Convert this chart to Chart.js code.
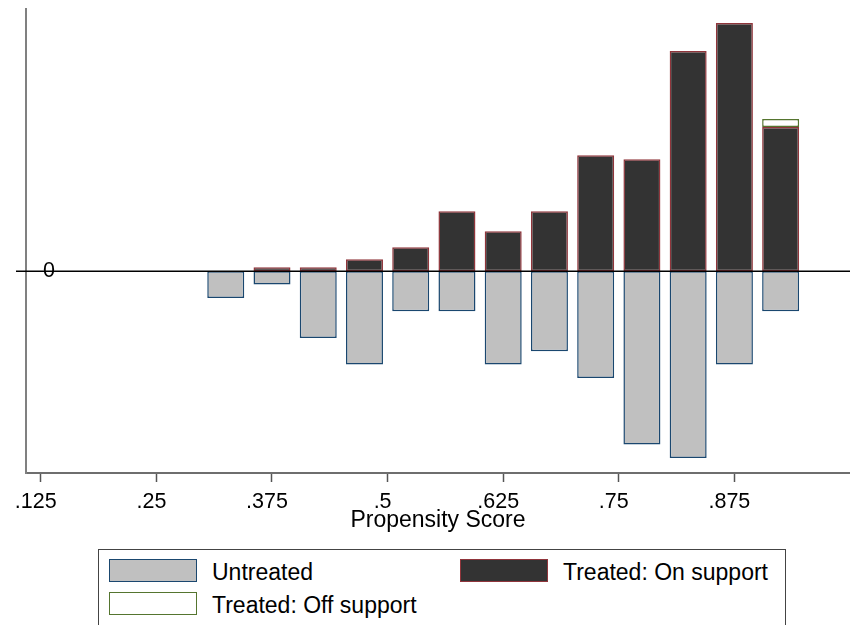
<!DOCTYPE html>
<html lang="en">
<head>
    <meta charset="UTF-8">
    <title>Propensity Score</title>
    <script src="https://cdn.jsdelivr.net/npm/chart.js"></script>
    <style>
        body {
            margin: 0;
            padding: 0;
            background: #ffffff;
            font-family: "Liberation Sans", Arial, sans-serif;
        }
        .page {
            position: relative;
            width: 850px;
            height: 625px;
            overflow: hidden;
        }
        .chart-box {
            position: absolute;
            left: 0;
            top: 0;
            width: 850px;
            height: 545px;
        }
        #legend {
            position: absolute;
            left: 98px;
            top: 549px;
            width: 688px;
            height: 100px;
            border: 1.5px solid #444;
            box-sizing: border-box;
        }
        .item {
            position: absolute;
            display: flex;
            align-items: flex-start;
            font-size: 23px;
            color: #000;
        }
        .swatch {
            width: 88px;
            height: 23px;
            box-sizing: border-box;
            border: 1.5px solid;
            margin-right: 15px;
        }
        .item span {
            line-height: 23px;
            padding-top: 2px;
        }
    </style>
</head>
<body>
<div class="page">
    <div class="chart-box"><canvas id="psChart"></canvas></div>
    <div id="legend"></div>
</div>

<script>
    // bin centres (bin width .05)
    const binCenters = [0.325, 0.375, 0.425, 0.475, 0.525, 0.575, 0.625, 0.675, 0.725, 0.775, 0.825, 0.875, 0.925];
    // densities; untreated drawn below zero
    const untreated = [-0.506, -0.253, -1.266, -1.772, -0.759, -0.759, -1.772, -1.519, -2.025, -3.291, -3.544, -1.772, -0.759];
    const treatedOn = [null, 0.076, 0.076, 0.228, 0.456, 1.141, 0.760, 1.141, 2.205, 2.129, 4.183, 4.715, 2.738];
    const treatedOffBins = [0.925];
    const treatedOff = [0.152];

    const xTicks = [0.125, 0.25, 0.375, 0.5, 0.625, 0.75, 0.875];
    const xTickLabels = ['.125', '.25', '.375', '.5', '.625', '.75', '.875'];

    const FONT = '"Liberation Sans", Arial, sans-serif';

    function points(xs, ys) {
        return xs.map((x, i) => ({ x: x, y: ys[i] }));
    }

    // horizontal line at zero, drawn over the bars
    const zeroLine = {
        id: 'zeroLine',
        afterDatasetsDraw(chart) {
            const ctx = chart.ctx;
            const area = chart.chartArea;
            const y0 = chart.scales.y.getPixelForValue(0);
            ctx.save();
            ctx.strokeStyle = '#000';
            ctx.lineWidth = 1.5;
            ctx.beginPath();
            ctx.moveTo(area.left - 10, y0);
            ctx.lineTo(area.right, y0);
            ctx.stroke();
            ctx.restore();
        }
    };

    const ctx = document.getElementById('psChart').getContext('2d');
    const chart = new Chart(ctx, {
        type: 'bar',
        data: {
            datasets: [{
                label: 'Untreated',
                data: points(binCenters, untreated),
                backgroundColor: '#c0c0c0',
                borderColor: '#1a476f',
                borderWidth: 1.5,
                borderSkipped: false
            }, {
                label: 'Treated: On support',
                data: points(binCenters, treatedOn),
                backgroundColor: '#333333',
                borderColor: '#90353b',
                borderWidth: 1.5,
                borderSkipped: false
            }, {
                label: 'Treated: Off support',
                data: points(treatedOffBins, treatedOff),
                backgroundColor: '#ffffff',
                borderColor: '#55752f',
                borderWidth: 1.5,
                borderSkipped: false
            }]
        },
        options: {
            responsive: true,
            maintainAspectRatio: false,
            animation: false,
            grouped: false,
            barPercentage: 0.8,
            categoryPercentage: 1.0,
            layout: { padding: { top: 9, left: 0, right: 0, bottom: 0 } },
            plugins: {
                legend: { display: false },
                tooltip: { enabled: false }
            },
            scales: {
                x: {
                    type: 'linear',
                    offset: false,
                    min: 0.109,
                    max: 1.0,
                    afterBuildTicks: (scale) => {
                        scale.ticks = xTicks.map(v => ({ value: v }));
                    },
                    afterFit: (scale) => {
                        scale.height = 72;
                        scale.paddingLeft = 0;
                        scale.paddingRight = 0;
                    },
                    ticks: {
                        autoSkip: false,
                        maxRotation: 0,
                        padding: 7,
                        labelOffset: -5,
                        color: '#000',
                        font: { family: FONT, size: 21.5 },
                        callback: (v, i) => xTickLabels[i]
                    },
                    grid: {
                        offset: false,
                        drawOnChartArea: false,
                        tickLength: 9,
                        tickColor: '#555',
                        tickWidth: 1.5
                    },
                    border: { display: true, color: '#6e6e6e', width: 2 },
                    title: {
                        display: true,
                        text: 'Propensity Score',
                        color: '#000',
                        font: { family: FONT, size: 23 },
                        padding: { top: 0, bottom: 11 }
                    }
                },
                y: {
                    stacked: true,
                    min: -3.83,
                    max: 4.98,
                    afterBuildTicks: (scale) => {
                        scale.ticks = [{ value: 0 }];
                    },
                    afterFit: (scale) => {
                        scale.width = 26;
                        scale.paddingTop = 0;
                        scale.paddingBottom = 0;
                    },
                    ticks: {
                        mirror: true,
                        padding: 17,
                        color: '#000',
                        font: { family: FONT, size: 21.5 },
                        callback: () => '0'
                    },
                    grid: { display: false, drawTicks: false },
                    border: { display: true, color: '#808080', width: 2 }
                }
            }
        },
        plugins: [zeroLine]
    });

    // legend box below the plot, two columns
    const legend = document.getElementById('legend');
    const slots = [[10, 9], [361, 9], [10, 42]];
    chart.data.datasets.forEach((ds, i) => {
        const item = document.createElement('div');
        item.className = 'item';
        item.style.left = slots[i][0] + 'px';
        item.style.top = slots[i][1] + 'px';
        const sw = document.createElement('div');
        sw.className = 'swatch';
        sw.style.background = ds.backgroundColor;
        sw.style.borderColor = ds.borderColor;
        const txt = document.createElement('span');
        txt.textContent = ds.label;
        item.appendChild(sw);
        item.appendChild(txt);
        legend.appendChild(item);
    });
</script>
</body>
</html>
